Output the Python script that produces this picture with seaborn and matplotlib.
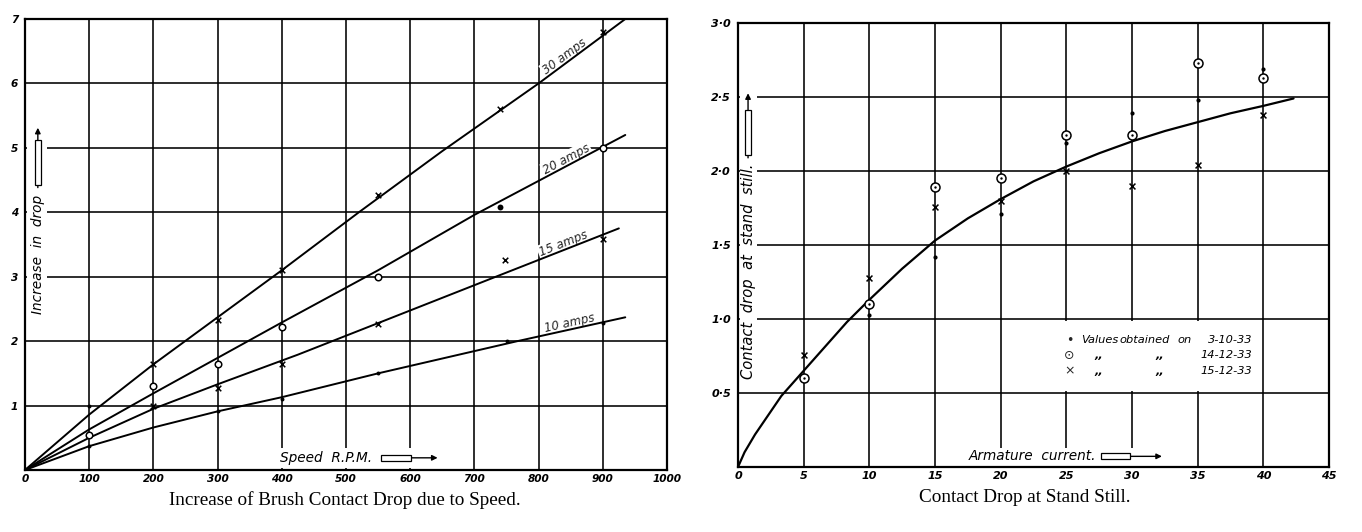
import numpy as np
import pandas as pd
import matplotlib
matplotlib.use("Agg")
import matplotlib.pyplot as plt
import seaborn as sns
from matplotlib.patches import Rectangle

# ---------------- Left chart: Increase of brush contact drop vs speed ----------------
amp_names = ["30 amps", "20 amps", "15 amps", "10 amps"]

# fitted lines
line_rpm_30 = [0, 100, 200, 300, 400, 520, 650, 800, 935]
line_drop_30 = [0, 0.86, 1.64, 2.37, 3.10, 4.00, 4.95, 6.00, 7.00]
line_rpm_20 = [0, 100, 200, 300, 400, 550, 700, 935]
line_drop_20 = [0, 0.63, 1.19, 1.74, 2.29, 3.10, 3.96, 5.20]
line_rpm_15 = [0, 100, 200, 300, 425, 550, 736, 925]
line_drop_15 = [0, 0.50, 0.95, 1.33, 1.79, 2.28, 3.01, 3.75]
line_rpm_10 = [0, 100, 200, 300, 400, 550, 767, 935]
line_drop_10 = [0, 0.37, 0.66, 0.91, 1.13, 1.50, 2.00, 2.37]

# observed points
pts_rpm_30 = [100, 200, 300, 400, 550, 740, 900]
pts_drop_30 = [1.00, 1.65, 2.33, 3.10, 4.27, 5.60, 6.80]
pts_kind_30 = ["dot", "x", "x", "x", "x", "x", "x"]
pts_rpm_20 = [100, 200, 300, 400, 550, 740, 900]
pts_drop_20 = [0.55, 1.31, 1.65, 2.22, 3.00, 4.08, 5.00]
pts_kind_20 = ["o", "o", "o", "o", "o", "big", "o"]
pts_rpm_15 = [200, 300, 400, 550, 747, 900]
pts_drop_15 = [1.00, 1.28, 1.65, 2.26, 3.26, 3.58]
pts_kind_15 = ["x", "x", "x", "x", "x", "x"]
pts_rpm_10 = [100, 300, 400, 550, 750, 900]
pts_drop_10 = [0.38, 0.91, 1.10, 1.50, 2.00, 2.28]
pts_kind_10 = ["dot", "dot", "dot", "dot", "dot", "dot"]

left_xticks = [0, 100, 200, 300, 400, 500, 600, 700, 800, 900, 1000]
left_yticks = [1, 2, 3, 4, 5, 6, 7]

# ---------------- Right chart: contact drop at stand still ----------------
curve_amp = [0, 0.5, 1.3, 2.3, 3.3, 5, 6.5, 8.3, 10, 12.5, 15, 17.5, 20, 22.5, 25,
             27.5, 30, 32.5, 35, 37.5, 40, 42.3]
curve_drop = [0, 0.10, 0.22, 0.35, 0.48, 0.65, 0.80, 0.98, 1.13, 1.34, 1.53, 1.68,
              1.81, 1.93, 2.03, 2.12, 2.20, 2.27, 2.33, 2.39, 2.44, 2.49]

dot_amp = [10, 15, 20, 25, 30, 35, 40]
dot_drop = [1.03, 1.42, 1.71, 2.19, 2.39, 2.48, 2.69]
odot_amp = [5, 10, 15, 20, 25, 30, 35, 40]
odot_drop = [0.60, 1.10, 1.89, 1.95, 2.24, 2.24, 2.73, 2.63]
cross_amp = [5, 10, 15, 20, 25, 30, 35, 40]
cross_drop = [0.76, 1.28, 1.76, 1.80, 2.00, 1.90, 2.04, 2.38]

right_xticks = [0, 5, 10, 15, 20, 25, 30, 35, 40, 45]
right_yticks = [0.5, 1.0, 1.5, 2.0, 2.5, 3.0]
right_yticklabels = ["0·5", "1·0", "1·5", "2·0", "2·5", "3·0"]

# ---------------- figure ----------------
sns.set_theme(style="white")
plt.rcParams["font.family"] = ["DejaVu Sans"]

W, H = 1362, 532
fig = plt.figure(figsize=(W / 100, H / 100), dpi=100)
fig.patch.set_facecolor("white")

axL = fig.add_axes([25 / W, 1 - 470 / H, 642 / W, 451 / H])
axR = fig.add_axes([738 / W, 1 - 467 / H, 591 / W, 444 / H])

tick_font = dict(fontstyle="italic", fontweight="bold", family="DejaVu Sans")

# ---- left lines
lines_df = pd.concat([
    pd.DataFrame({"rpm": r, "drop": d, "series": n})
    for r, d, n in zip([line_rpm_30, line_rpm_20, line_rpm_15, line_rpm_10],
                       [line_drop_30, line_drop_20, line_drop_15, line_drop_10],
                       amp_names)
], ignore_index=True)
sns.lineplot(data=lines_df, x="rpm", y="drop", units="series", estimator=None,
             sort=False, color="black", linewidth=1.4, ax=axL, legend=False, zorder=3)

pts_df = pd.concat([
    pd.DataFrame({"rpm": r, "drop": d, "kind": k})
    for r, d, k in zip([pts_rpm_30, pts_rpm_20, pts_rpm_15, pts_rpm_10],
                       [pts_drop_30, pts_drop_20, pts_drop_15, pts_drop_10],
                       [pts_kind_30, pts_kind_20, pts_kind_15, pts_kind_10])
], ignore_index=True)
sns.scatterplot(data=pts_df[pts_df.kind == "x"], x="rpm", y="drop", marker="x",
                color="black", s=16, linewidth=1.1, ax=axL, zorder=5, legend=False)
sns.scatterplot(data=pts_df[pts_df.kind == "o"], x="rpm", y="drop", marker="o",
                facecolor="white", edgecolor="black", s=22, linewidth=1.1, ax=axL,
                zorder=5, legend=False)
sns.scatterplot(data=pts_df[pts_df.kind == "big"], x="rpm", y="drop", marker="o",
                color="black", s=18, linewidth=0, ax=axL, zorder=5, legend=False)
sns.scatterplot(data=pts_df[pts_df.kind == "dot"], x="rpm", y="drop", marker="o",
                color="black", s=8, linewidth=0, ax=axL, zorder=5, legend=False)

# ---- right curve and points
curve_df = pd.DataFrame({"amp": curve_amp, "drop": curve_drop})
sns.lineplot(data=curve_df, x="amp", y="drop", sort=False, estimator=None,
             color="black", linewidth=1.6, ax=axR, zorder=3)

dot_df = pd.DataFrame({"amp": dot_amp, "drop": dot_drop})
odot_df = pd.DataFrame({"amp": odot_amp, "drop": odot_drop})
cross_df = pd.DataFrame({"amp": cross_amp, "drop": cross_drop})
sns.scatterplot(data=dot_df, x="amp", y="drop", marker="o", color="black", s=9,
                linewidth=0, ax=axR, zorder=5)
sns.scatterplot(data=odot_df, x="amp", y="drop", marker="o", facecolor="white",
                edgecolor="black", s=42, linewidth=1.1, ax=axR, zorder=5)
sns.scatterplot(data=odot_df, x="amp", y="drop", marker="o", color="black", s=3,
                linewidth=0, ax=axR, zorder=6)
sns.scatterplot(data=cross_df, x="amp", y="drop", marker="x", color="black", s=18,
                linewidth=1.1, ax=axR, zorder=5)


def style_axes(ax, xlim, ylim, xticks, yticks, yticklabels, fs):
    ax.set_xlim(*xlim)
    ax.set_ylim(*ylim)
    ax.set_xticks(xticks)
    ax.set_yticks(yticks)
    ax.set_xticklabels([str(t) for t in xticks], fontsize=fs, **tick_font)
    ax.set_yticklabels(yticklabels, fontsize=fs, **tick_font)
    ax.tick_params(axis="both", length=0, colors="black")
    ax.tick_params(axis="x", pad=3)
    ax.tick_params(axis="y", pad=5)
    ax.grid(True, color="black", linewidth=1.15)
    ax.set_axisbelow(True)
    for s in ax.spines.values():
        s.set_color("black")
        s.set_linewidth(1.6)
        s.set_visible(True)
    ax.set_xlabel("")
    ax.set_ylabel("")
    ax.set_facecolor("white")


style_axes(axL, (0, 1000), (0, 7), left_xticks, left_yticks,
           [str(t) for t in left_yticks], 7.6)
style_axes(axR, (0, 45), (0, 3), right_xticks, right_yticks, right_yticklabels, 8)

# line labels (text sits along each line)
label_pos = {"30 amps": (846, 6.34, 0.0074), "20 amps": (848, 4.74, 0.00528),
             "15 amps": (842, 3.42, 0.0039), "10 amps": (850, 2.18, 0.0022)}
for name, (lx, ly, slope) in label_pos.items():
    ang = np.degrees(np.arctan(slope))
    axL.text(lx, ly, name, rotation=ang, transform_rotates_text=True,
             rotation_mode="anchor", ha="center", va="bottom", fontsize=8.5,
             fontstyle="italic", zorder=2.5,
             bbox=dict(facecolor="white", edgecolor="none", pad=0.8))


# ---- in-plot axis captions with arrows (white gaps in the grid)
def white_box(ax, x0, y0, x1, y1):
    ax.add_patch(Rectangle((x0, y0), x1 - x0, y1 - y0, transform=ax.transAxes,
                           facecolor="white", edgecolor="none", zorder=2))


cap_font = dict(fontstyle="italic", fontsize=9.8, color="black")

# left y caption
white_box(axL, 0.003, 0.333, 0.034, 0.754)
axL.text(0.020, 0.478, "Increase  in  drop", rotation=90, ha="center", va="center",
         transform=axL.transAxes, zorder=4, **cap_font)
axL.annotate("", xy=(0.020, 0.765), xytext=(0.020, 0.62), xycoords="axes fraction",
             arrowprops=dict(arrowstyle="-|>", lw=1.0, color="black",
                             mutation_scale=8), zorder=4)
axL.add_patch(Rectangle((0.0155, 0.632), 0.009, 0.10, transform=axL.transAxes,
                        facecolor="white", edgecolor="black", lw=0.9, zorder=5))

# left x caption
white_box(axL, 0.389, 0.004, 0.657, 0.049)
axL.text(0.397, 0.027, "Speed  R.P.M.", ha="left", va="center",
         transform=axL.transAxes, zorder=4, **cap_font)
axL.annotate("", xy=(0.647, 0.027), xytext=(0.552, 0.027), xycoords="axes fraction",
             arrowprops=dict(arrowstyle="-|>", lw=1.0, color="black",
                             mutation_scale=8), zorder=4)
axL.add_patch(Rectangle((0.554, 0.021), 0.048, 0.013, transform=axL.transAxes,
                        facecolor="white", edgecolor="black", lw=0.9, zorder=5))

# right y caption
white_box(axR, 0.003, 0.178, 0.032, 0.854)
axR.text(0.017, 0.440, "Contact  drop  at  stand  still.", rotation=90, ha="center",
         va="center", transform=axR.transAxes, zorder=4, fontstyle="italic",
         fontsize=10.6, color="black")
axR.annotate("", xy=(0.017, 0.848), xytext=(0.017, 0.69), xycoords="axes fraction",
             arrowprops=dict(arrowstyle="-|>", lw=1.0, color="black",
                             mutation_scale=8), zorder=4)
axR.add_patch(Rectangle((0.0125, 0.703), 0.009, 0.10, transform=axR.transAxes,
                        facecolor="white", edgecolor="black", lw=0.9, zorder=5))

# right x caption
white_box(axR, 0.376, 0.003, 0.731, 0.043)
axR.text(0.391, 0.024, "Armature  current.", ha="left", va="center",
         transform=axR.transAxes, zorder=4, **cap_font)
axR.annotate("", xy=(0.722, 0.024), xytext=(0.612, 0.024), xycoords="axes fraction",
             arrowprops=dict(arrowstyle="-|>", lw=1.0, color="black",
                             mutation_scale=8), zorder=4)
axR.add_patch(Rectangle((0.614, 0.018), 0.05, 0.013, transform=axR.transAxes,
                        facecolor="white", edgecolor="black", lw=0.9, zorder=5))

# ---- right legend (hand-lettered key)
axR.add_patch(Rectangle((23.6, 0.515), 15.9, 0.47, facecolor="white",
                        edgecolor="none", zorder=2))
leg_font = dict(fontstyle="italic", fontsize=8.2, color="black", va="center", zorder=4)
rows_y = [0.857, 0.755, 0.652]
axR.text(25.25, rows_y[0], "•", ha="center", fontsize=9, va="center", zorder=4)
axR.text(25.25, rows_y[1], "⊙", ha="center", fontsize=9, va="center", zorder=4)
axR.text(25.25, rows_y[2], "×", ha="center", fontsize=9, va="center", zorder=4)
axR.text(26.1, rows_y[0], "Values", ha="left", **leg_font)
axR.text(29.06, rows_y[0], "obtained", ha="left", **leg_font)
axR.text(33.45, rows_y[0], "on", ha="left", **leg_font)
axR.text(39.15, rows_y[0], "3-10-33", ha="right", **leg_font)
for ry, date in zip(rows_y[1:], ["14-12-33", "15-12-33"]):
    axR.text(27.5, ry, ",,", ha="center", fontweight="bold", **leg_font)
    axR.text(32.1, ry, ",,", ha="center", fontweight="bold", **leg_font)
    axR.text(39.15, ry, date, ha="right", **leg_font)

# ---- captions under the charts
cap = dict(family=["Liberation Serif", "DejaVu Serif"], fontsize=13.8,
           ha="center", va="center", color="black")
fig.text(345 / W, 1 - 500 / H, "Increase of Brush Contact Drop due to Speed.", **cap)
fig.text(1025 / W, 1 - 497 / H, "Contact Drop at Stand Still.", **cap)

fig.savefig("out.png", dpi=100, facecolor="white")
